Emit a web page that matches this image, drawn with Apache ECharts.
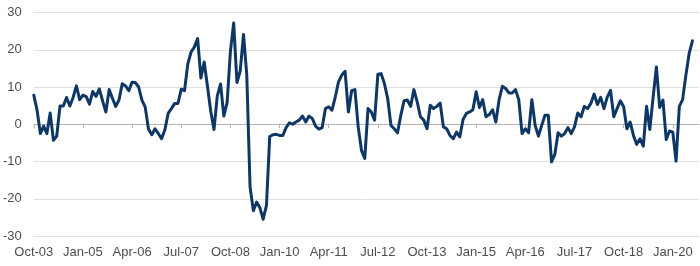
<!DOCTYPE html>
<html>
<head>
<meta charset="utf-8">
<script src="https://cdn.jsdelivr.net/npm/echarts@6/dist/echarts.min.js"></script>
<style>
html,body{margin:0;padding:0;background:#fff;}
#chart{width:700px;height:266px;}
</style>
</head>
<body>
<div id="chart"></div>
<script>
// Monthly series starting Oct-03
const startYear = 2003, startMonth = 9; // October (0-based)
const values = [
  7.8, 3.8, -2.5, -0.5, -2.5, 3.0, -4.3, -3.2, 4.9, 4.9,
  7.2, 4.9, 7.2, 10.3, 6.6, 7.8, 7.4, 5.4, 8.8, 7.5,
  9.5, 6.3, 3.3, 9.3, 7.0, 4.8, 6.5, 10.9, 10.3, 9.0,
  11.3, 11.2, 10.0, 6.5, 4.6, -1.3, -2.8, -1.2, -2.5, -3.9,
  -1.5, 2.9, 4.2, 5.6, 5.6, 9.4, 9.0, 16.2, 19.4, 20.7,
  23.0, 12.4, 16.7, 10.2, 3.5, -1.4, 7.6, 10.8, 2.2, 5.8,
  19.5, 27.2, 11.2, 14.3, 24.1, 13.2, -16.8, -23.2, -20.9, -22.4,
  -25.5, -21.8, -3.3, -2.8, -2.7, -3.0, -3.0, -0.9, 0.4, 0.0,
  0.6, 1.1, 2.2, 0.6, 2.2, 1.5, -0.5, -1.3, -0.9, 4.2,
  4.7, 3.8, 7.3, 11.4, 13.2, 14.2, 3.3, 9.0, 9.3, -0.7,
  -7.0, -9.2, 4.2, 3.3, 1.1, 13.4, 13.6, 10.9, 6.9, -0.3,
  -1.2, -2.3, 2.4, 6.3, 6.5, 4.8, 9.3, 6.0, 2.0, 1.1,
  -1.2, 5.1, 4.2, 4.8, 5.7, -0.7, -1.2, -3.0, -3.9, -2.1,
  -3.4, 1.3, 2.9, 3.3, 3.9, 8.7, 4.5, 6.6, 2.0, 2.6,
  3.9, 0.6, 6.6, 10.2, 9.6, 8.4, 8.4, 9.3, 6.6, -2.5,
  -1.2, -2.3, 6.6, -0.3, -3.2, -0.3, 2.4, 2.4, -10.1, -8.1,
  -2.3, -3.2, -2.5, -0.9, -2.5, -0.7, 3.0, 2.0, 4.8, 4.2,
  5.6, 8.1, 5.3, 7.2, 4.2, 7.3, 9.1, 2.0, 4.2, 6.3,
  4.7, -1.2, 0.6, -3.0, -5.4, -3.9, -5.9, 4.8, -1.4, 7.3,
  15.4, 4.5, 6.5, -4.1, -1.8, -2.1, -9.9, 4.8, 6.6, 13.2,
  19.0, 22.4
];
const categoryCount = 204; // axis extends two months past the last value
const monthNames = ['Jan','Feb','Mar','Apr','May','Jun','Jul','Aug','Sep','Oct','Nov','Dec'];
const categories = [];
for (let i = 0; i < categoryCount; i++) {
  const m = (startMonth + i) % 12;
  const y = startYear + Math.floor((startMonth + i) / 12);
  categories.push(monthNames[m] + '-' + String(y % 100).padStart(2, '0'));
}
const yTicks = { min: -30, max: 30, step: 10 };

const chart = echarts.init(document.getElementById('chart'), null, { renderer: 'canvas' });
const font = '"Liberation Sans", Arial, Helvetica, sans-serif';
chart.setOption({
  animation: false,
  backgroundColor: '#ffffff',
  grid: { left: 32.5, right: 1, top: 12.5, bottom: 30, containLabel: false },
  xAxis: [
    {
      type: 'category',
      data: categories,
      boundaryGap: false,
      position: 'bottom',
      axisLine: { show: true, onZero: true, lineStyle: { color: '#b3b3b3', width: 1 } },
      axisTick: { show: true, interval: 14, length: 4, lineStyle: { color: '#b3b3b3' } },
      axisLabel: { show: false },
      splitLine: { show: false }
    },
    {
      type: 'category',
      data: categories,
      boundaryGap: false,
      position: 'bottom',
      axisLine: { show: false, onZero: false },
      axisTick: { show: false },
      axisLabel: { show: true, interval: 14, margin: 10, color: '#4d4d4d', fontSize: 13, fontFamily: font },
      splitLine: { show: false }
    }
  ],
  yAxis: {
    type: 'value',
    min: yTicks.min,
    max: yTicks.max,
    interval: yTicks.step,
    axisLine: { show: false },
    axisTick: { show: false },
    axisLabel: { margin: 12, color: '#4d4d4d', fontSize: 13, fontFamily: font },
    splitLine: { show: true, lineStyle: { color: '#e0e0e0', width: 1 } }
  },
  series: [{
    type: 'line',
    xAxisIndex: 0,
    data: values,
    showSymbol: false,
    symbol: 'none',
    lineStyle: { color: '#0e3765', width: 3, join: 'round', cap: 'round' },
    z: 5
  }]
});
</script>
</body>
</html>
